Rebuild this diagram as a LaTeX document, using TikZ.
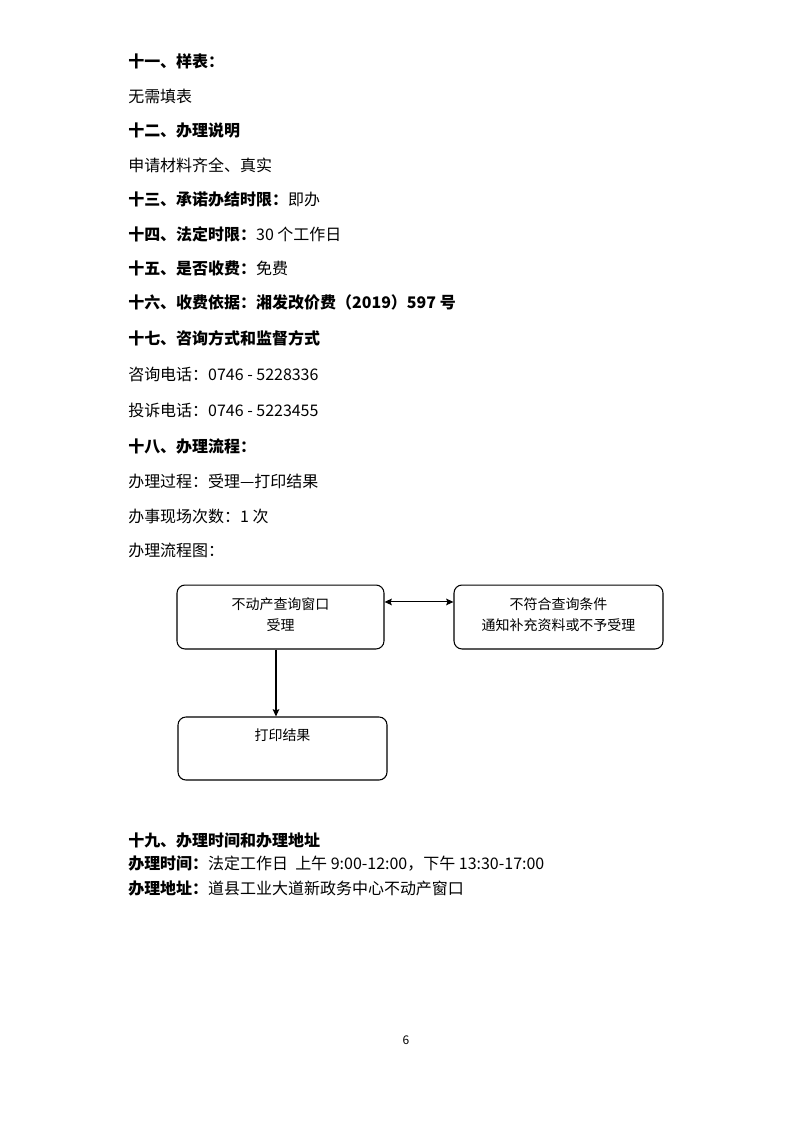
\documentclass[tikz,border=0pt]{standalone}
\usepackage{fontspec}
\usetikzlibrary{arrows.meta}
\setmainfont{Noto Sans CJK SC}
\begin{document}
\begin{tikzpicture}[x=0.7507pt,y=-0.7507pt,>={Stealth[length=5.5pt,width=5pt,inset=1pt]},line join=round,
	font=\fontsize{12}{14}\selectfont,
	txt/.style={anchor=west,inner sep=0pt},
	box/.style={draw,line width=0.8pt,rounded corners=6pt,minimum width=#1,minimum height=48pt,inner sep=0pt},
	boxtext/.style={align=center,inner sep=0pt,font=\fontsize{10.5}{15.8}\selectfont}]
	\path[use as bounding box,fill=white] (0,0) rectangle (793,1122);
	% text above the chart
	\node[txt] (h11) at (128,61) {\textbf{十一、样表：}};
	\node[txt] (l11) at (128,96) {无需填表};
	\node[txt] (h12) at (128,130) {\textbf{十二、办理说明}};
	\node[txt] (l12) at (128,165) {申请材料齐全、真实};
	\node[txt] (h13) at (128,199) {\textbf{十三、承诺办结时限：}即办};
	\node[txt] (h14) at (128,234) {\textbf{十四、法定时限：}30 个工作日};
	\node[txt] (h15) at (128,268) {\textbf{十五、是否收费：}免费};
	\node[txt] (h16) at (128,302) {\textbf{十六、收费依据：湘发改价费（2019）597 号}};
	\node[txt] (h17) at (128,338) {\textbf{十七、咨询方式和监督方式}};
	\node[txt] (tel) at (128,374) {咨询电话：0746 - 5228336};
	\node[txt] (com) at (128,410) {投诉电话：0746 - 5223455};
	\node[txt] (h18) at (128,446) {\textbf{十八、办理流程：}};
	\node[txt] (proc) at (128,481) {办理过程：受理—打印结果};
	\node[txt] (num) at (128,516) {办事现场次数：1 次};
	\node[txt] (chart) at (128,550) {办理流程图：};
	% flow chart
	\node[box=155.4pt] (A) at (280.5,617) {};
	\node[box=156.9pt] (B) at (558.5,617) {};
	\node[box=156.9pt,minimum height=47.3pt] (C) at (282.5,748.5) {};
	\node[boxtext] (tA) at (280.5,614.5) {不动产查询窗口\\受理};
	\node[boxtext] (tB) at (558.5,614.5) {不符合查询条件\\通知补充资料或不予受理};
	\node[boxtext] (tC) at (282.5,735) {打印结果};
	\draw[<->,line width=0.8pt] ([yshift=11.3pt]A.east)--([yshift=11.3pt]B.west);
	\draw[->,line width=0.8pt] ([xshift=-3.4pt]A.south)--([xshift=-3.4pt]A.south |- C.north);
	% text below the chart
	\node[txt] (h19) at (128,840) {\textbf{十九、办理时间和办理地址}};
	\node[txt] (time) at (128,864) {\textbf{办理时间：}法定工作日\ \ 上午 9:00-12:00，下午 13:30-17:00};
	\node[txt] (addr) at (128,888) {\textbf{办理地址：}道县工业大道新政务中心不动产窗口};
	\node[font=\fontsize{9}{10}\selectfont] (page) at (406,1040) {6};
\end{tikzpicture}
\end{document}
